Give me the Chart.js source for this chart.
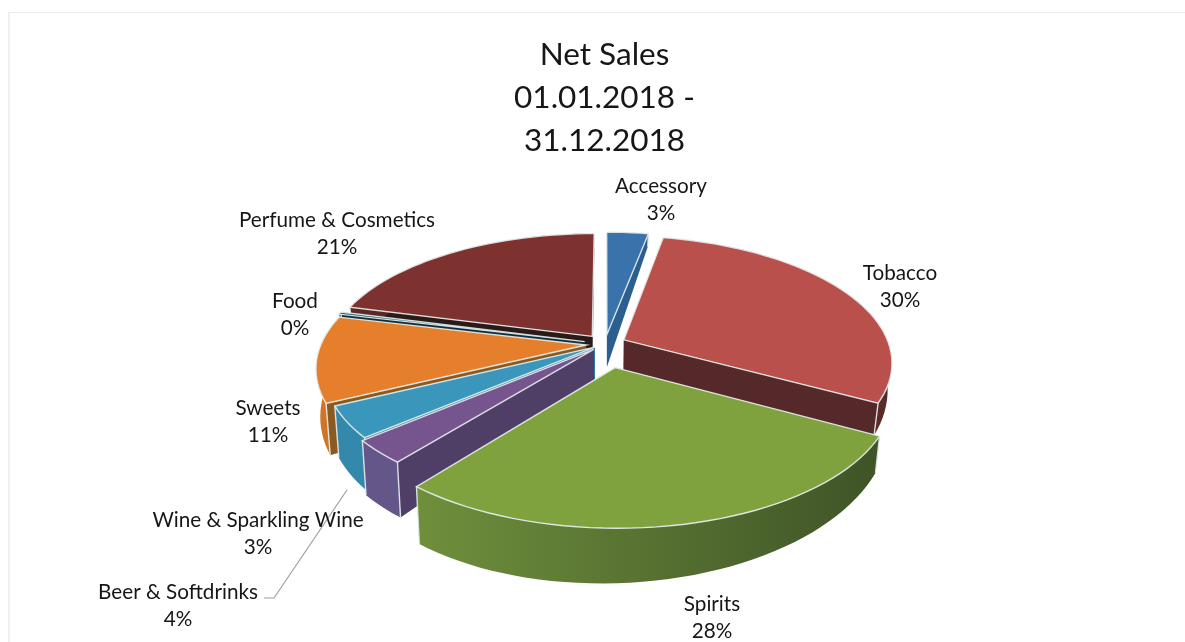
<!DOCTYPE html>
<html>
<head>
<meta charset="utf-8">
<script src="https://cdn.jsdelivr.net/npm/chart.js@4"></script>
<style>
  html, body { margin: 0; background: #fff; }
  #wrap { position: relative; width: 1185px; height: 642px; overflow: hidden; }
  #scanEdge { position: absolute; left: 8px; top: 12px; right: -2px; bottom: -2px; border-left: 2px solid #f0f0f0; border-top: 1px solid #ececec; }
  canvas { position: absolute; left: 0; top: 0; }
</style>
</head>
<body>
<div id="wrap">
  <div id="scanEdge"></div>
  <canvas id="chart" width="1185" height="642"></canvas>
</div>
<script>
const categories = ["Accessory", "Tobacco", "Spirits", "Wine & Sparkling Wine", "Beer & Softdrinks", "Sweets", "Food", "Perfume & Cosmetics"];
const shares = [3, 30, 28, 3, 4, 11, 0.3, 21];
const titleLines = ["Net Sales", "01.01.2018 -", "31.12.2018"];

const topColors = ["#3a72ab", "#b9504c", "#7fa23f", "#76558f", "#3a97bb", "#e57f2c", "#1f5c70", "#7d3230"];
const arcWallLeft = ["#2a5f90", "#6b2f2e", "#6f8f3c", "#65568a", "#3488ab", "#d07428", "#12303c", "#5a2826"];
const arcWallRight = ["#2a5f90", "#5a2a28", "#3f5427", "#65568a", "#3488ab", "#d07428", "#12303c", "#5a2826"];
const cutWallColors = ["#2a5f90", "#55282a", "#40552a", "#4f3f66", "#2f7d9c", "#8a5a20", "#12303c", "#2a1a18"];
const explode = [21, 21, 50, 16, 12, 19, 21, 21];

// centre of each text block, same order as categories
const labelSpots = [[661, 199], [900, 286], [712, 617], [258, 533], [178, 605], [268, 421], [295, 314], [337, 233]];

// flat pie plane -> screen, front of the pie comes out larger
const view = { cx: 605, cy: 344, f: 265, squash: 0.465, persp: 0.175 };

function project(x, y, low) {
    const p = 1 / (1 - view.persp * y);
    let sx = view.cx + view.f * x * p;
    let sy = view.cy + view.f * view.squash * y * p;
    if (low) {
        sx = view.cx + (sx - view.cx) * 0.985;
        sy += 34 + 18 * y - 10 * x;
    }
    return [sx, sy];
}

function fillPoly(ctx, points, color) {
    ctx.beginPath();
    points.forEach((p, k) => k ? ctx.lineTo(p[0], p[1]) : ctx.moveTo(p[0], p[1]));
    ctx.closePath();
    ctx.fillStyle = color;
    ctx.fill();
}

function drawSlice(ctx, arc, i) {
    const e = explode[i] / view.f;
    const mid = (arc.startAngle + arc.endAngle) / 2;
    const ox = e * Math.cos(mid), oy = e * Math.sin(mid);
    const steps = Math.max(2, Math.ceil((arc.endAngle - arc.startAngle) / 0.04));
    const rim = [];
    for (let s = 0; s <= steps; s++) {
        const a = arc.startAngle + (arc.endAngle - arc.startAngle) * s / steps;
        rim.push([ox + Math.cos(a), oy + Math.sin(a)]);
    }
    const apexTop = project(ox, oy, false), apexLow = project(ox, oy, true);
    const rimTop = rim.map(p => project(p[0], p[1], false));
    const rimLow = rim.map(p => project(p[0], p[1], true));
    const last = rim.length - 1;

    // side walls first, the top face covers whatever faces away
    fillPoly(ctx, [apexTop, rimTop[0], rimLow[0], apexLow], cutWallColors[i]);
    fillPoly(ctx, [apexTop, rimTop[last], rimLow[last], apexLow], cutWallColors[i]);
    const xs = rimLow.map(p => p[0]);
    const shade = ctx.createLinearGradient(Math.min(...xs), 0, Math.max(...xs), 0);
    shade.addColorStop(0, arcWallLeft[i]);
    shade.addColorStop(1, arcWallRight[i]);
    fillPoly(ctx, rimTop.concat(rimLow.slice().reverse()), shade);

    ctx.strokeStyle = "rgba(232,238,238,0.9)";
    ctx.lineWidth = 1.4;
    ctx.beginPath();
    [0, last].forEach(k => {
        ctx.moveTo(rimTop[k][0], rimTop[k][1]);
        ctx.lineTo(rimLow[k][0], rimLow[k][1]);
    });
    ctx.stroke();

    fillPoly(ctx, [apexTop].concat(rimTop), topColors[i]);
    ctx.beginPath();
    ctx.moveTo(apexTop[0], apexTop[1]);
    rimTop.forEach(p => ctx.lineTo(p[0], p[1]));
    ctx.closePath();
    ctx.stroke();
}

const pie3d = {
    id: "pie3d",
    beforeDatasetDraw() { return false; },
    afterDatasetsDraw(chart) {
        const ctx = chart.ctx;
        const arcs = chart.getDatasetMeta(0).data;
        const order = arcs.map((arc, i) => ({ i, y: Math.sin((arc.startAngle + arc.endAngle) / 2) }));
        order.sort((a, b) => a.y - b.y);
        ctx.save();
        order.forEach(o => drawSlice(ctx, arcs[o.i], o.i));

        // leader line of the beer label
        const beer = categories.indexOf("Beer & Softdrinks");
        const spot = labelSpots[beer];
        ctx.strokeStyle = "#9aa0a6";
        ctx.lineWidth = 1.2;
        ctx.beginPath();
        ctx.moveTo(spot[0] + 86, spot[1] - 7);
        ctx.lineTo(spot[0] + 96, spot[1] - 7);
        ctx.lineTo(spot[0] + 169, spot[1] - 115);
        ctx.stroke();

        const total = shares.reduce((a, b) => a + b, 0);
        ctx.fillStyle = "#161616";
        ctx.font = "20.7px Lato";
        ctx.textAlign = "center";
        ctx.textBaseline = "middle";
        categories.forEach((name, i) => {
            const spot = labelSpots[i];
            ctx.fillText(name, spot[0], spot[1] - 13);
            ctx.fillText(`${Math.round(shares[i] / total * 100)}%`, spot[0], spot[1] + 14);
        });
        ctx.restore();
    }
};

new Chart(document.getElementById("chart"), {
    type: "pie",
    data: {
        labels: categories,
        datasets: [{ data: shares, backgroundColor: topColors, offset: explode, borderWidth: 0 }]
    },
    options: {
        responsive: false,
        animation: false,
        layout: { padding: { left: 24, top: 33 } },
        plugins: {
            legend: { display: false },
            tooltip: { enabled: false },
            title: {
                display: true,
                text: titleLines,
                color: "#161616",
                font: { family: "Lato", size: 31.5, weight: "normal", lineHeight: 1.37 },
                padding: 0
            }
        }
    },
    plugins: [pie3d]
});
</script>
</body>
</html>
